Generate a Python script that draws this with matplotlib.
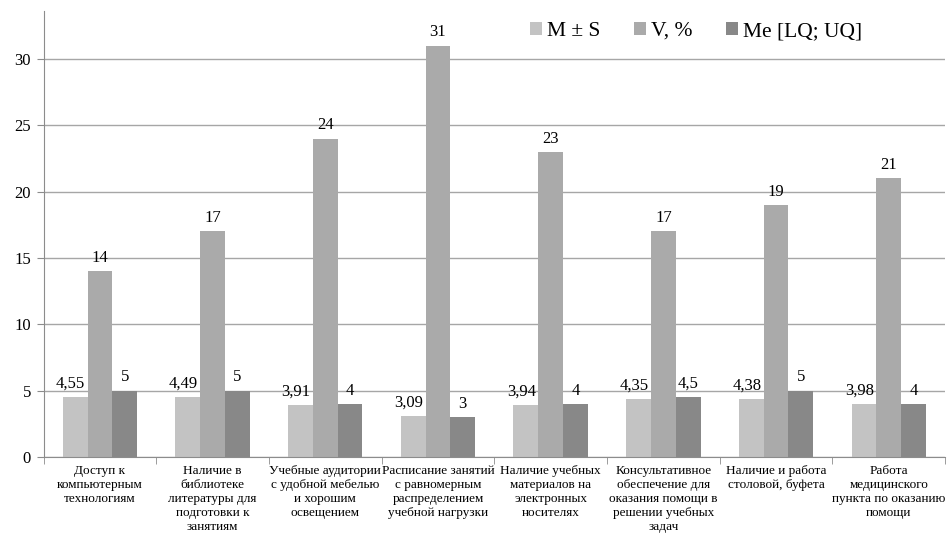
import numpy as np
import matplotlib
matplotlib.use("Agg")
import matplotlib.pyplot as plt

plt.rcParams['font.family'] = ['Liberation Serif', 'DejaVu Serif']

categories = [
    "Доступ к\nкомпьютерным\nтехнологиям",
    "Наличие в\nбиблиотеке\nлитературы для\nподготовки к\nзанятиям",
    "Учебные аудитории\nс удобной мебелью\nи хорошим\nосвещением",
    "Расписание занятий\nс равномерным\nраспределением\nучебной нагрузки",
    "Наличие учебных\nматериалов на\nэлектронных\nносителях",
    "Консультативное\nобеспечение для\nоказания помощи в\nрешении учебных\nзадач",
    "Наличие и работа\nстоловой, буфета",
    "Работа\nмедицинского\nпункта по оказанию\nпомощи",
]
m_s = [4.55, 4.49, 3.91, 3.09, 3.94, 4.35, 4.38, 3.98]
v_pct = [14, 17, 24, 31, 23, 17, 19, 21]
me = [5, 5, 4, 3, 4, 4.5, 5, 4]
m_s_labels = ["4,55", "4,49", "3,91", "3,09", "3,94", "4,35", "4,38", "3,98"]
v_labels = ["14", "17", "24", "31", "23", "17", "19", "21"]
me_labels = ["5", "5", "4", "3", "4", "4,5", "5", "4"]

series = [
    ("M ± S", m_s, m_s_labels, "#c3c3c3"),
    ("V, %", v_pct, v_labels, "#aaaaaa"),
    ("Me [LQ; UQ]", me, me_labels, "#888888"),
]

fig = plt.figure(figsize=(9.47, 5.37), dpi=100)
ax = fig.add_axes([0.046, 0.149, 0.952, 0.83])

x = np.arange(len(categories))
w = 0.22
for i, (name, vals, labs, col) in enumerate(series):
    pos = x + (i - 1) * w
    ax.bar(pos, vals, width=w, color=col, label=name, zorder=2)
    for p, v, t in zip(pos, vals, labs):
        ax.text(p - (0.04 if i == 0 else 0), v + 0.4, t, ha='center', va='bottom',
                fontsize=12, zorder=3)

ax.set_xlim(-0.5, len(categories) - 0.5)
ax.set_ylim(0, 33.6)
ax.set_yticks(range(0, 31, 5))
ax.yaxis.grid(True, color='#a6a6a6', linewidth=1, zorder=0)
ax.set_axisbelow(True)
for s in ['top', 'right']:
    ax.spines[s].set_visible(False)
ax.spines['left'].set_color('#8c8c8c')
ax.spines['bottom'].set_color('#8c8c8c')
ax.tick_params(axis='y', labelsize=12, length=5, color='#8c8c8c', pad=4)
ax.set_xticks(np.arange(len(categories) + 1) - 0.5, minor=True)
ax.set_xticks(x)
ax.set_xticklabels(categories, fontsize=9.5, linespacing=1.2)
ax.tick_params(axis='x', which='major', length=0, pad=6)
ax.tick_params(axis='x', which='minor', length=5, color='#8c8c8c')

ax.legend(loc='upper right', bbox_to_anchor=(0.93, 1.02), ncol=3, frameon=False,
          fontsize=15.5, handlelength=0.55, handleheight=0.55, handletextpad=0.25,
          columnspacing=1.55)

fig.savefig("out.png", dpi=100)
